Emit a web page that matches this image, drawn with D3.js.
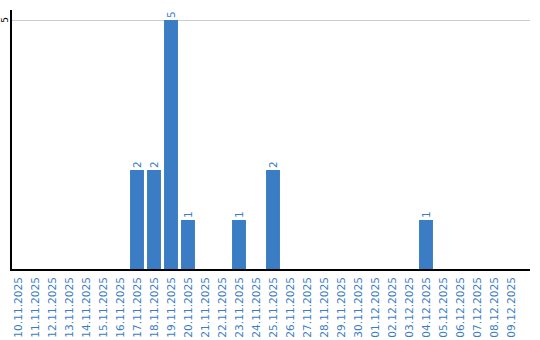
<!DOCTYPE html>
<html><head><meta charset="utf-8">
<script src="https://cdn.jsdelivr.net/npm/d3@7"></script>
<style>body{margin:0;background:#fff}svg{display:block}text{font-family:"DejaVu Sans",Verdana,sans-serif}</style>
</head><body><svg id="c" width="540" height="340"></svg>
<script>
const categories = ["10.11.2025","11.11.2025","12.11.2025","13.11.2025","14.11.2025","15.11.2025","16.11.2025","17.11.2025","18.11.2025","19.11.2025","20.11.2025","21.11.2025","22.11.2025","23.11.2025","24.11.2025","25.11.2025","26.11.2025","27.11.2025","28.11.2025","29.11.2025","30.11.2025","01.12.2025","02.12.2025","03.12.2025","04.12.2025","05.12.2025","06.12.2025","07.12.2025","08.12.2025","09.12.2025"];
const values = [0,0,0,0,0,0,0,2,2,5,1,0,0,1,0,2,0,0,0,0,0,0,0,0,1,0,0,0,0,0];
const yTicks = [5];

(function(){
const svg = d3.select("#c");
const mLeft = 11, mRight = 530, mTop = 10, mBottom = 270;
const x = d3.scaleBand().domain(categories).range([9.5, 519.5]).paddingInner(0.18).paddingOuter(0.09);
const y = d3.scaleLinear().domain([0, 5]).range([mBottom, 20]);
const blue = "#3b7dc4";
const data = categories.map((c, i) => ({c, v: values[i]})).filter(d => d.v > 0);

svg.append("g").selectAll("line").data(yTicks).join("line")
  .attr("x1", mLeft).attr("x2", mRight)
  .attr("y1", d => y(d) + 0.5).attr("y2", d => y(d) + 0.5)
  .attr("stroke", "#cccccc").attr("stroke-width", 1);

svg.append("g").selectAll("rect").data(data).join("rect")
  .attr("x", d => x(d.c)).attr("width", x.bandwidth())
  .attr("y", d => y(d.v)).attr("height", d => y(0) - y(d.v))
  .attr("fill", blue);

svg.append("g").selectAll("text").data(data).join("text")
  .attr("transform", d => `translate(${x(d.c) + x.bandwidth()/2 + 3.5},${y(d.v) - 2}) rotate(-90)`)
  .attr("text-anchor", "start").attr("font-size", 10.5).attr("fill", blue)
  .text(d => d.v);

svg.append("g").selectAll("text").data(yTicks).join("text")
  .attr("transform", d => `translate(8,${y(d)}) rotate(-90)`)
  .attr("text-anchor", "middle").attr("font-size", 9).attr("fill", "#000")
  .text(d => d);

svg.append("g").selectAll("text").data(categories).join("text")
  .attr("transform", d => `translate(${x(d) + x.bandwidth()/2 + 3.5},277) rotate(-90)`)
  .attr("text-anchor", "end").attr("font-size", 10.6).attr("fill", blue)
  .text(d => d);

svg.append("line").attr("x1", mLeft).attr("x2", mLeft).attr("y1", mTop).attr("y2", mBottom + 1)
  .attr("stroke", "#000").attr("stroke-width", 2);
svg.append("line").attr("x1", mLeft - 1).attr("x2", mRight).attr("y1", mBottom).attr("y2", mBottom)
  .attr("stroke", "#000").attr("stroke-width", 2);
})();
</script></body></html>
